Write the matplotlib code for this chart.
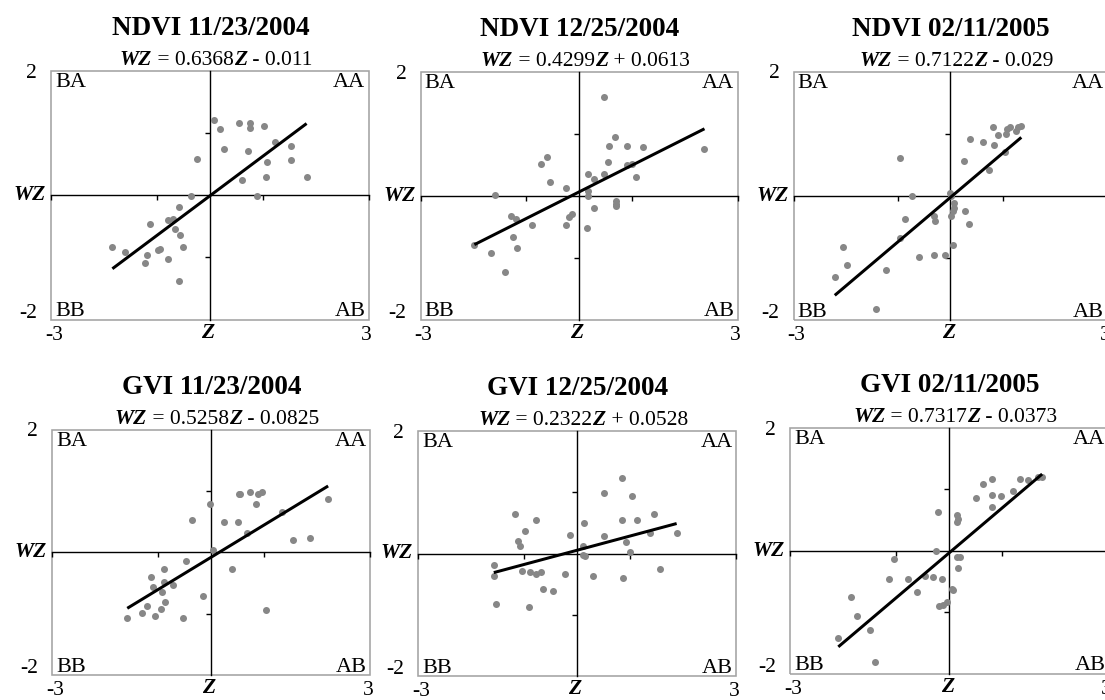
import matplotlib
matplotlib.use("Agg")
import matplotlib.pyplot as plt
from matplotlib.patches import Rectangle
from matplotlib.offsetbox import TextArea, HPacker, AnnotationBbox
import numpy as np

# ---------------- data ----------------
titles = ["NDVI 11/23/2004", "NDVI 12/25/2004", "NDVI 02/11/2005",
          "GVI 11/23/2004", "GVI 12/25/2004", "GVI 02/11/2005"]
slopes = [0.6368, 0.4299, 0.7122, 0.5258, 0.2322, 0.7317]
intercepts = [-0.011, 0.0613, -0.029, -0.0825, 0.0528, -0.0373]
slope_labels = ["0.6368", "0.4299", "0.7122", "0.5258", "0.2322", "0.7317"]
intercept_labels = [" - 0.011", " + 0.0613", " - 0.029", " - 0.0825", " + 0.0528", " - 0.0373"]
quadrant_labels = ["BA", "AA", "BB", "AB"]
x_tick_labels = ["-3", "3"]
y_tick_labels = ["2", "-2"]

ndvi_1123_z = [0.075, 0.2, 0.56, 0.76, 0.76, 1.03, 0.27, 0.72, 1.23, 1.53, 1.09, 1.53,
               -0.25, 0.61, 1.06, 1.83, 0.89, -0.36, -0.59, -1.13, -0.78, -0.7, -0.66,
               -0.56, -0.5, -0.94, -0.97, -1.19, -1.22, -0.78, -1.84, -1.61, -0.58]
ndvi_1123_wz = [1.21, 1.06, 1.17, 1.17, 1.09, 1.11, 0.75, 0.72, 0.86, 0.8, 0.54, 0.57,
                0.58, 0.24, 0.29, 0.29, -0.02, -0.02, -0.19, -0.47, -0.40, -0.39, -0.54,
                -0.64, -0.84, -0.87, -0.88, -0.96, -1.09, -1.03, -0.84, -0.92, -1.38]

ndvi_1225_z = [0.48, 0.69, 0.575, 0.91, 1.22, 2.375, -0.61, -0.71, 0.54, 0.91, 1.0,
               -0.54, -0.25, 0.175, 0.28, 0.48, 1.075, 0.17, 0.175, 0.7, 0.7, 0.7, 0.28,
               -0.125, -0.19, -0.25, 0.16, -1.59, -1.28, -1.19, -0.89, -1.24, -1.17,
               -1.675, -1.41, -1.98]
ndvi_1225_wz = [1.59, 0.95, 0.81, 0.81, 0.78, 0.755, 0.62, 0.52, 0.55, 0.50, 0.52,
                0.22, 0.13, 0.35, 0.27, 0.35, 0.30, 0.07, -0.01, -0.09, -0.14, -0.16, -0.19,
                -0.30, -0.35, -0.48, -0.52, 0.01, -0.33, -0.38, -0.47, -0.67, -0.84,
                -0.93, -1.24, -0.80]

ndvi_0211_z = [0.81, 1.15, 1.09, 1.25, 1.36, 1.30, 0.92, 1.06, 0.37, 0.62, 0.84, 1.05,
               0.26, 0.75, -0.97, -0.74, -0.01, 0.01, 0.075, 0.075, 0.05, 0.01, 0.29,
               0.36, -0.31, -0.30, -0.87, 0.06, -0.97, -0.59, -0.31, -0.11, -1.23,
               -2.06, -1.98, -2.21, -1.43]
ndvi_0211_wz = [1.11, 1.11, 1.07, 1.04, 1.13, 1.10, 0.97, 0.99, 0.91, 0.86, 0.82, 0.70,
                0.56, 0.42, 0.60, 0.0, 0.05, 0.0, -0.11, -0.19, -0.25, -0.32, -0.25,
                -0.45, -0.33, -0.40, -0.37, -0.79, -0.68, -0.99, -0.96, -0.96, -1.19,
                -0.82, -1.11, -1.30, -1.82]

gvi_1123_z = [0.52, 0.555, 0.74, 0.885, 0.96, 0.84, -0.02, -0.35, 0.25, 0.51, 1.34,
              1.54, 1.86, 2.21, 0.04, -0.47, -0.88, 0.39, -1.14, -0.89, -0.72, -1.09,
              -0.92, -0.86, -1.20, -0.94, -1.30, -1.05, -1.58, -0.52, -0.16, 1.04, 0.67]
gvi_1123_wz = [0.95, 0.95, 0.98, 0.95, 0.98, 0.78, 0.79, 0.52, 0.49, 0.49, 0.65,
               0.20, 0.23, 0.86, 0.04, -0.14, -0.28, -0.28, -0.40, -0.48, -0.53, -0.57,
               -0.64, -0.81, -0.87, -0.92, -0.99, -1.04, -1.07, -1.07, -0.72, -0.94, 0.31]

gvi_1225_z = [0.84, 0.51, 1.04, -1.17, -0.78, 1.46, 0.84, 1.13, 0.14, -0.98, -0.14,
              0.51, 1.37, 1.88, -1.12, -1.07, 0.93, 0.11, 0.12, 0.155, 1.0, -1.57,
              -1.04, -0.88, -0.78, -0.68, -0.22, 0.31, 0.87, 1.57, -1.57, -0.64,
              -0.45, -1.53, -0.90]
gvi_1225_wz = [1.23, 0.99, 0.94, 0.64, 0.54, 0.64, 0.54, 0.54, 0.49, 0.37, 0.31,
               0.29, 0.34, 0.34, 0.20, 0.13, 0.19, 0.13, -0.02, -0.04, 0.02, -0.19,
               -0.29, -0.31, -0.34, -0.31, -0.34, -0.37, -0.40, -0.26, -0.37, -0.58,
               -0.61, -0.82, -0.88]

gvi_0211_z = [0.80, 0.63, 1.325, 1.49, 1.68, 1.75, 1.20, 0.80, 0.98, 0.50, 0.80,
              -0.22, 0.15, 0.17, 0.14, -0.25, -1.04, 0.14, 0.20, 0.17, -1.13, -0.78,
              -0.45, -0.30, -0.13, -0.61, 0.07, 0.06, -0.05, -0.12, -0.19, -1.86,
              -1.73, -1.50, -2.09, -1.40]
gvi_0211_wz = [1.17, 1.08, 1.17, 1.14, 1.19, 1.20, 0.97, 0.90, 0.88, 0.86, 0.71,
               0.62, 0.58, 0.52, 0.47, -0.01, -0.14, -0.10, -0.10, -0.28, -0.46, -0.47,
               -0.42, -0.43, -0.47, -0.68, -0.64, -0.62, -0.84, -0.88, -0.91, -0.75,
               -1.06, -1.29, -1.43, -1.81]

z_series = [ndvi_1123_z, ndvi_1225_z, ndvi_0211_z, gvi_1123_z, gvi_1225_z, gvi_0211_z]
wz_series = [ndvi_1123_wz, ndvi_1225_wz, ndvi_0211_wz, gvi_1123_wz, gvi_1225_wz, gvi_0211_wz]

# ---------------- layout (pixels: left, top, right, bottom) ----------------
W, H = 1105, 700
boxes = [(51, 71, 368.5, 319.5), (420.5, 72, 737.5, 319.5), (793.5, 71.5, 1107, 320),
         (52, 429.5, 370, 675), (418, 431, 736, 676), (790, 427.5, 1108.5, 673.5)]

SERIF = "Liberation Serif"
PT = 72.0 / 100.0  # points per pixel

fig = plt.figure(figsize=(W / 100, H / 100), dpi=100)
fig.patch.set_facecolor("white")

for i in range(6):
    l, t, r, b = boxes[i]
    ax = fig.add_axes([l / W, 1 - b / H, (r - l) / W, (b - t) / H])
    ax.set_xlim(-3, 3)
    ax.set_ylim(-2, 2)
    ax.set_facecolor("white")

    # center axes lines
    for s in ["top", "right"]:
        ax.spines[s].set_visible(False)
    ax.spines["left"].set_position(("data", 0))
    ax.spines["bottom"].set_position(("data", 0))
    for s in ["left", "bottom"]:
        ax.spines[s].set_color("black")
        ax.spines[s].set_linewidth(1.4 * PT)
        ax.spines[s].set_zorder(1)
    ax.set_xticks([-3, -1, 1, 3])
    ax.set_yticks([-1, 1])
    ax.tick_params(direction="out", length=5 * PT, width=1.4 * PT, color="black",
                   labelbottom=False, labelleft=False)

    # gray frame
    ax.add_patch(Rectangle((0, 0), 1, 1, transform=ax.transAxes, fill=False,
                           ec="#a3a3a3", lw=1.6 * PT, clip_on=False, zorder=0.5))

    xs = np.array(z_series[i])
    ys = np.array(wz_series[i])
    ax.plot(xs, ys, linestyle="none", marker="o", markersize=7.0 * PT,
            color="#878787", markeredgewidth=0, zorder=2)
    xl = np.array([xs.min(), xs.max()])
    ax.plot(xl, slopes[i] * xl + intercepts[i], color="black", lw=3.0 * PT,
            solid_capstyle="butt", zorder=3)

    # quadrant labels
    qfont = dict(fontfamily=SERIF, fontsize=16, color="black")
    ax.annotate(quadrant_labels[0], (0, 1), xycoords="axes fraction", xytext=(4, -2),
                textcoords="offset pixels", ha="left", va="top", **qfont)
    ax.annotate(quadrant_labels[1], (1, 1), xycoords="axes fraction", xytext=(-3, -2),
                textcoords="offset pixels", ha="right", va="top", **qfont)
    ax.annotate(quadrant_labels[2], (0, 0), xycoords="axes fraction", xytext=(4, 3),
                textcoords="offset pixels", ha="left", va="baseline", **qfont)
    ax.annotate(quadrant_labels[3], (1, 0), xycoords="axes fraction", xytext=(-3, 3),
                textcoords="offset pixels", ha="right", va="baseline", **qfont)

    # axis value labels
    tfont = dict(fontfamily=SERIF, fontsize=15.5, color="black", annotation_clip=False)
    ax.annotate(y_tick_labels[0], (0, 1), xycoords="axes fraction", xytext=(-14, -7),
                textcoords="offset pixels", ha="right", va="baseline", **tfont)
    ax.annotate(y_tick_labels[1], (0, 0), xycoords="axes fraction", xytext=(-14, 2),
                textcoords="offset pixels", ha="right", va="baseline", **tfont)
    ax.annotate(x_tick_labels[0], (0, 0), xycoords="axes fraction", xytext=(3, -6),
                textcoords="offset pixels", ha="center", va="top", **tfont)
    ax.annotate(x_tick_labels[1], (1, 0), xycoords="axes fraction", xytext=(-2, -6),
                textcoords="offset pixels", ha="center", va="top", **tfont)
    bifont = dict(fontfamily=SERIF, fontsize=15.5, fontweight="bold", fontstyle="italic",
                  color="black", annotation_clip=False)
    ax.annotate("Z", (0.5, 0), xycoords="axes fraction", xytext=(-2, -3),
                textcoords="offset pixels", ha="center", va="top", **bifont)
    ax.annotate("WZ", (0, 0.5), xycoords="axes fraction", xytext=(-5, 0),
                textcoords="offset pixels", ha="right", va="center", **bifont)

    # title
    ax.annotate(titles[i], (0.5, 1), xycoords="axes fraction", xytext=(1, 36),
                textcoords="offset pixels", ha="center", va="baseline",
                fontfamily=SERIF, fontsize=19.5, fontweight="bold", color="black",
                annotation_clip=False)

    # equation
    eq_bi = dict(fontfamily=SERIF, fontsize=15.5, fontweight="bold", fontstyle="italic", color="black")
    eq_rm = dict(fontfamily=SERIF, fontsize=15.5, color="black")
    parts = [TextArea("WZ", textprops=eq_bi),
             TextArea(" = " + slope_labels[i], textprops=eq_rm),
             TextArea("Z", textprops=eq_bi),
             TextArea(intercept_labels[i], textprops=eq_rm)]
    pack = HPacker(children=parts, align="baseline", pad=0, sep=0)
    ab = AnnotationBbox(pack, (0.5, 1), xycoords="axes fraction", xybox=(6, 1),
                        boxcoords="offset pixels", box_alignment=(0.5, 0.0),
                        frameon=False, pad=0, annotation_clip=False)
    ax.add_artist(ab)

fig.savefig("out.png", dpi=100, facecolor="white")
